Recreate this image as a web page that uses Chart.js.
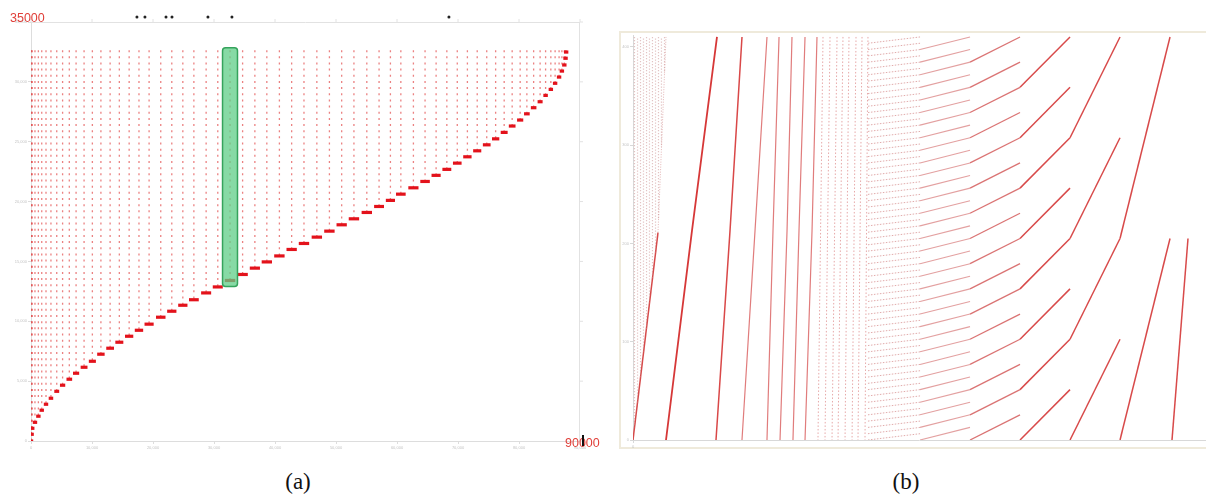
<!DOCTYPE html>
<html>
<head>
<meta charset="utf-8">
<script src="https://cdn.jsdelivr.net/npm/chart.js@4/dist/chart.umd.min.js"></script>
<style>
  body { margin:0; background:#fff; width:1206px; height:501px; overflow:hidden; position:relative; font-family:"Liberation Sans", Arial, sans-serif; }
  #chartA { position:absolute; left:0; top:0; }
  #frameB { position:absolute; left:619px; top:31px; width:620px; height:418px; border:2px solid #efeadb; box-sizing:border-box; }
  #chartB { position:absolute; left:618px; top:30px; }
  .red { position:absolute; color:#e0403a; font-size:12.5px; line-height:12px; }
  .cap { position:absolute; font-family:"Liberation Serif", serif; font-size:23px; color:#111; width:60px; text-align:center; }
  #cursor { position:absolute; left:582px; top:435px; width:2px; height:11px; background:#111; }
</style>
</head>
<body>
<div id="frameB"></div>
<canvas id="chartA" width="600" height="460"></canvas>
<canvas id="chartB" width="588" height="421"></canvas>
<div class="red" style="left:10px; top:12px;">35000</div>
<div class="red" style="left:565px; top:437px;">90000</div>
<div id="cursor"></div>
<div class="cap" style="left:268px; top:469px;">(a)</div>
<div class="cap" style="left:876px; top:469px;">(b)</div>
<script>
// ---------- panel (a) data ----------
// x position of every dotted column and the level of its red step mark
const colX = [0, 100, 200, 650, 1210, 1760, 2460, 3270, 4220, 5180, 6280, 7390, 8700, 10060, 11460,
  12970, 14480, 16090, 17700, 19360, 21270, 23080, 24890, 26700, 28710, 30620, 32630, 34690, 36700,
  38660, 40720, 42730, 44750, 46860, 48920, 50930, 52940, 55050, 57060, 58920, 60630, 62690, 64600,
  66410, 68170, 69880, 71540, 73150, 74710, 76170, 77570, 78880, 80190, 81290, 82400, 83460, 84360,
  85220, 85920, 86570, 87030, 87430, 87630, 87730];
const colBottom = [0, 560, 1060, 1560, 2070, 2570, 3070, 3570, 4150, 4660, 5160, 5660, 6160, 6660, 7250,
  7750, 8250, 8750, 9250, 9760, 10340, 10840, 11340, 11800, 12370, 12870, 13410, 13910, 14440,
  14960, 15460, 16000, 16500, 17030, 17530, 18060, 18560, 19090, 19590, 20100, 20620, 21150, 21680,
  22190, 22690, 23210, 23740, 24240, 24740, 25240, 25780, 26310, 26810, 27330, 27840, 28340, 28870,
  29370, 29880, 30400, 30900, 31410, 31970, 32490];
const colTop = 32650;
// small black marks above the frame
const markerX = [17370, 18680, 22130, 23110, 29010, 32940, 68510];
const markerY = [35420, 35420, 35420, 35420, 35420, 35420, 35420];
const hlX = [31400, 33850];
const hlY = [12900, 32850];

// ---------- panel (b) data ----------
const yTopB = 410;
const dotRegionX = [18, 55, 91, 127, 164, 200, 236, 273, 309, 345, 382];
const dotRegionBottom = [13, 38, 63, 88, 113, 139, 164, 189, 224, 298, 373];
const edgeLineX = [0, 303, 400];
const edgeLineY = [0, 211, 410];
const steepLinesX = [
  [400, 715, 1018], [1006, 1176, 1321], [1321, 1479, 1624], [1624, 1697, 1770],
  [1782, 1867, 1927], [1939, 2012, 2085], [2085, 2170, 2230]
];
const steepLinesY = [0, 213, 410];
const dashColBottomX = [2242, 2327, 2412, 2485, 2570, 2655, 2727, 2812];
const dashColTopX = [2303, 2388, 2473, 2545, 2618, 2703, 2776, 2848];
const bandEdgeX = [2848, 3479, 4085, 4691, 5297, 5903, 6509];
const bandLineCount = [64, 32, 16, 8, 4, 2];
const lastLineX = [6533, 6727];
const lastLineY = [0, 205];

const tinyTicks = { font: { size: 4 }, color: '#c4c4c4', padding: 1 };

// ---------- chart (a) ----------
const dsA = [];
dsA.push({
  data: colX.map((x, i) => ({ x: x, y: colBottom[i] })),
  showLine: false,
  pointStyle: 'line',
  pointBorderColor: '#e3121b',
  pointBackgroundColor: '#e3121b',
  pointBorderWidth: 3.2,
  pointRadius: ctx => {
    const sx = ctx.chart.scales.x;
    if (!sx) return 3;
    const i = ctx.dataIndex;
    const a = sx.getPixelForValue(colX[Math.max(i - 1, 0)]);
    const b = sx.getPixelForValue(colX[Math.min(i + 1, colX.length - 1)]);
    const n = (i === 0 || i === colX.length - 1) ? 1 : 2;
    return Math.max(2.2, Math.min(5.2, (b - a) / n * 0.42));
  },
  order: 0
});
colX.forEach((x, i) => {
  dsA.push({
    data: [{ x: x, y: colTop }, { x: x, y: colBottom[i] }],
    showLine: true,
    borderColor: 'rgba(226,70,70,0.68)',
    borderWidth: 1.3,
    borderDash: [2, 4.16],
    pointRadius: 0,
    order: 1
  });
});

const frameA = {
  id: 'frameA',
  afterDatasetsDraw(chart) {
    const { ctx, chartArea: a, scales } = chart;
    ctx.save();
    ctx.strokeStyle = '#e2e2e2';
    ctx.lineWidth = 1;
    ctx.beginPath();
    ctx.moveTo(a.left, a.top + 0.5); ctx.lineTo(a.right, a.top + 0.5);
    ctx.moveTo(a.right - 0.5, a.top); ctx.lineTo(a.right - 0.5, a.bottom);
    scales.x.ticks.forEach(t => {
      const px = scales.x.getPixelForValue(t.value);
      ctx.moveTo(px, a.top); ctx.lineTo(px, a.top - 3);
    });
    scales.y.ticks.forEach(t => {
      const py = scales.y.getPixelForValue(t.value);
      ctx.moveTo(a.right, py); ctx.lineTo(a.right + 3, py);
    });
    ctx.stroke();
    // green highlighted column
    const x0 = scales.x.getPixelForValue(hlX[0]), x1 = scales.x.getPixelForValue(hlX[1]);
    const y0 = scales.y.getPixelForValue(hlY[1]), y1 = scales.y.getPixelForValue(hlY[0]);
    ctx.beginPath();
    if (ctx.roundRect) ctx.roundRect(x0, y0, x1 - x0, y1 - y0, 3);
    else ctx.rect(x0, y0, x1 - x0, y1 - y0);
    ctx.fillStyle = 'rgba(95,205,135,0.75)';
    ctx.fill();
    ctx.strokeStyle = '#35a35c';
    ctx.lineWidth = 1.5;
    ctx.stroke();
    // black marks above the plot (outside the chart area, so drawn here)
    ctx.fillStyle = '#222';
    markerX.forEach((x, i) => {
      ctx.beginPath();
      ctx.arc(scales.x.getPixelForValue(x), scales.y.getPixelForValue(markerY[i]), 1.5, 0, Math.PI * 2);
      ctx.fill();
    });
    ctx.restore();
  }
};

new Chart(document.getElementById('chartA'), {
  type: 'scatter',
  data: { datasets: dsA },
  options: {
    responsive: false,
    animation: false,
    devicePixelRatio: 1,
    events: [],
    layout: { padding: { top: 22, right: 20, left: 0, bottom: 0 } },
    plugins: { legend: { display: false }, tooltip: { enabled: false } },
    scales: {
      x: {
        type: 'linear', min: 0, max: 90000,
        ticks: Object.assign({ stepSize: 10000 }, tinyTicks),
        grid: { drawOnChartArea: false, tickLength: 3, color: '#dddddd' },
        border: { color: '#dddddd' },
        afterFit(s) { s.height = 19; }
      },
      y: {
        type: 'linear', min: 0, max: 35000,
        ticks: Object.assign({ stepSize: 5000 }, tinyTicks),
        grid: { drawOnChartArea: false, tickLength: 3, color: '#dddddd' },
        border: { color: '#dddddd' },
        afterFit(s) { s.width = 31; }
      }
    }
  },
  plugins: [frameA]
});

// ---------- chart (b) ----------
const dsB = [];
function seg(points, color, width, dash) {
  dsB.push({
    data: points,
    showLine: true,
    borderColor: color,
    borderWidth: width,
    borderDash: dash || [],
    pointRadius: 0
  });
}
// stippled strip on the left
dotRegionX.forEach((x, i) => {
  dsB.push({
    data: [{ x: x, y: yTopB }, { x: x, y: dotRegionBottom[i] }],
    showLine: true,
    borderColor: 'rgba(200,135,135,0.5)',
    borderWidth: 1.2,
    borderDash: [1.2, 1.8],
    borderDashOffset: i % 2 ? 1.5 : 0,
    pointRadius: 0
  });
});
// boundary of the stippled strip
seg([{ x: edgeLineX[0], y: edgeLineY[0] }, { x: edgeLineX[1], y: edgeLineY[1] }], '#d64a4a', 1.5);
seg([{ x: edgeLineX[1], y: edgeLineY[1] }, { x: edgeLineX[2], y: edgeLineY[2] }], 'rgba(205,120,120,0.55)', 1, [1, 1.5]);
// steep solid lines
steepLinesX.forEach((xs, k) => {
  const col = k === 0 ? '#d63838' : (k === 1 ? '#d94848' : 'rgba(214,80,80,0.75)');
  const w = k === 0 ? 1.8 : (k === 1 ? 1.5 : 1.2);
  seg(xs.map((x, i) => ({ x: x, y: steepLinesY[i] })), col, w);
});
// dotted near-vertical columns
dashColBottomX.forEach((x, i) => {
  seg([{ x: dashColTopX[i], y: yTopB }, { x: x, y: 0 }], 'rgba(214,110,110,0.6)', 1, [1.5, 2]);
});
// merging bands of slanted lines
bandLineCount.forEach((n, b) => {
  const step = yTopB / n;
  let col, w, dash;
  if (b === 0) { col = 'rgba(205,115,115,0.6)'; w = 1; dash = [1.5, 1.5]; }
  else if (b === 1) { col = 'rgba(215,120,120,0.7)'; w = 1.1; }
  else if (b === 2) { col = 'rgba(212,90,90,0.85)'; w = 1.3; }
  else { col = '#d84a4a'; w = 1.5; }
  for (let j = 0; j < n; j++) {
    seg([{ x: bandEdgeX[b], y: yTopB - (j + 1) * step }, { x: bandEdgeX[b + 1], y: yTopB - j * step }], col, w, dash);
  }
});
seg(lastLineX.map((x, i) => ({ x: x, y: lastLineY[i] })), '#d84a4a', 1.5);

new Chart(document.getElementById('chartB'), {
  type: 'scatter',
  data: { datasets: dsB },
  options: {
    responsive: false,
    animation: false,
    devicePixelRatio: 1,
    events: [],
    layout: { padding: { top: 5, right: 1, left: 0, bottom: 0 } },
    plugins: { legend: { display: false }, tooltip: { enabled: false } },
    scales: {
      x: {
        type: 'linear', min: 0, max: 6933,
        ticks: Object.assign({ stepSize: 1000 }, tinyTicks),
        afterBuildTicks(s) { s.ticks = s.ticks.filter(t => t.value % 1000 === 0); },
        grid: { drawOnChartArea: false, tickLength: 3, color: '#d8d8d8' },
        border: { color: '#d8d8d8' },
        afterFit(s) { s.height = 11; }
      },
      y: {
        type: 'linear', min: 0, max: 412,
        ticks: Object.assign({ stepSize: 100 }, tinyTicks),
        afterBuildTicks(s) { s.ticks = s.ticks.filter(t => t.value % 100 === 0); },
        grid: { drawOnChartArea: false, tickLength: 3, color: '#d8d8d8' },
        border: { color: '#d8d8d8' },
        afterFit(s) { s.width = 15; }
      }
    }
  }
});
</script>
</body>
</html>
